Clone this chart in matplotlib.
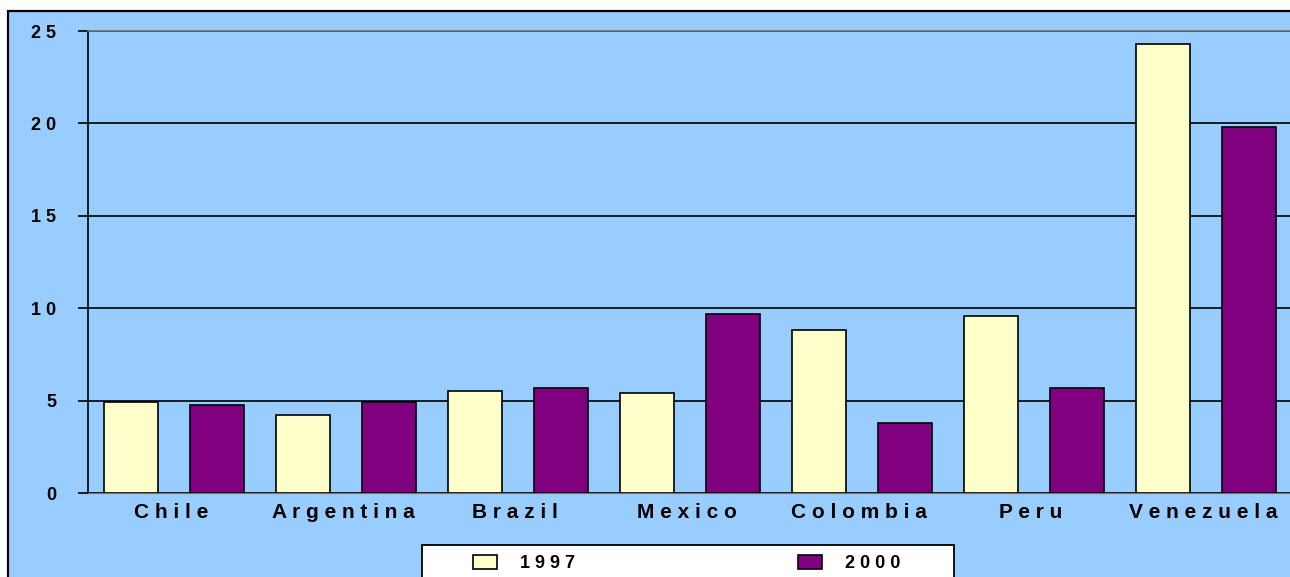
import matplotlib.pyplot as plt
import numpy as np
from matplotlib.patches import Rectangle

plt.rcParams['font.family'] = ['Liberation Sans', 'DejaVu Sans']
plt.rcParams['font.weight'] = 'bold'

countries = ['Chile', 'Argentina', 'Brazil', 'Mexico', 'Colombia', 'Peru', 'Venezuela']
vals_1997 = [4.9, 4.2, 5.5, 5.4, 8.8, 9.6, 24.3]
vals_2000 = [4.75, 4.9, 5.7, 9.7, 3.8, 5.7, 19.8]
series_names = ['1997', '2000']
yticks = [0, 5, 10, 15, 20, 25]

BLUE = '#99CCFF'
YELLOW = '#FFFFCC'
PURPLE = '#800080'

W, H = 1290, 577


def spaced(s):
    # letter spaced labels like the original (spacing after every letter)
    return ' '.join(s) + ' '


fig = plt.figure(figsize=(W / 100, H / 100), dpi=100)
fig.patch.set_facecolor('white')

# chart area background with border (runs off the right and bottom edge)
fig.patches.append(Rectangle((8 / W, -0.05), 1.1, 1 - 11 / H + 0.05,
                             transform=fig.transFigure, facecolor=BLUE,
                             edgecolor='black', linewidth=1.6, zorder=-2))

ax = fig.add_axes([88 / W, (H - 493) / H, (W - 88) / W, 462 / H])
ax.set_zorder(2)
ax.set_facecolor(BLUE)

x = np.arange(len(countries))
bw = 54 / 172
b1 = ax.bar(x - 0.25, vals_1997, bw, color=YELLOW, edgecolor='black',
            linewidth=1.2, zorder=3, label=' '.join(series_names[0]))
b2 = ax.bar(x + 0.25, vals_2000, bw, color=PURPLE, edgecolor='black',
            linewidth=1.2, zorder=3, label=' '.join(series_names[1]))

ax.set_xlim(-0.5, -0.5 + 1202 / 172)
ax.set_ylim(0, 25)
ax.set_yticks(yticks)
ax.set_yticklabels([' '.join(str(v)) for v in yticks], fontsize=13, fontweight='bold')
ax.tick_params(axis='y', length=7, width=1.2, direction='out', pad=16)
ax.set_xticks(x)
ax.set_xticklabels([spaced(c) for c in countries], fontsize=15, fontweight='bold')
ax.tick_params(axis='x', length=0, pad=7)

ax.yaxis.grid(True, color='black', linewidth=1.2, zorder=1)
ax.set_axisbelow(True)
ax.spines['left'].set_color('black')
ax.spines['left'].set_linewidth(1.2)
ax.spines['bottom'].set_color('#707070')
ax.spines['top'].set_color('#707070')
ax.spines['top'].set_linewidth(1.2)
ax.spines['right'].set_visible(False)

# legend box
fig.patches.append(Rectangle((422 / W, -0.05), (954 - 422) / W, (H - 545) / H + 0.05,
                             transform=fig.transFigure, facecolor='white',
                             edgecolor='black', linewidth=1.3, zorder=1))
fs = 13 * 100 / 72
leg = fig.legend(handles=[b1, b2], loc='upper left', ncol=2,
                 bbox_to_anchor=(473 / W, 1 - 555 / H), borderaxespad=0,
                 borderpad=0, frameon=False, prop={'size': 13, 'weight': 'bold'},
                 handlelength=24 / fs, handleheight=15 / fs,
                 handletextpad=23 / fs, columnspacing=223 / fs)
leg.set_zorder(5)

fig.savefig('out.png', dpi=100)
